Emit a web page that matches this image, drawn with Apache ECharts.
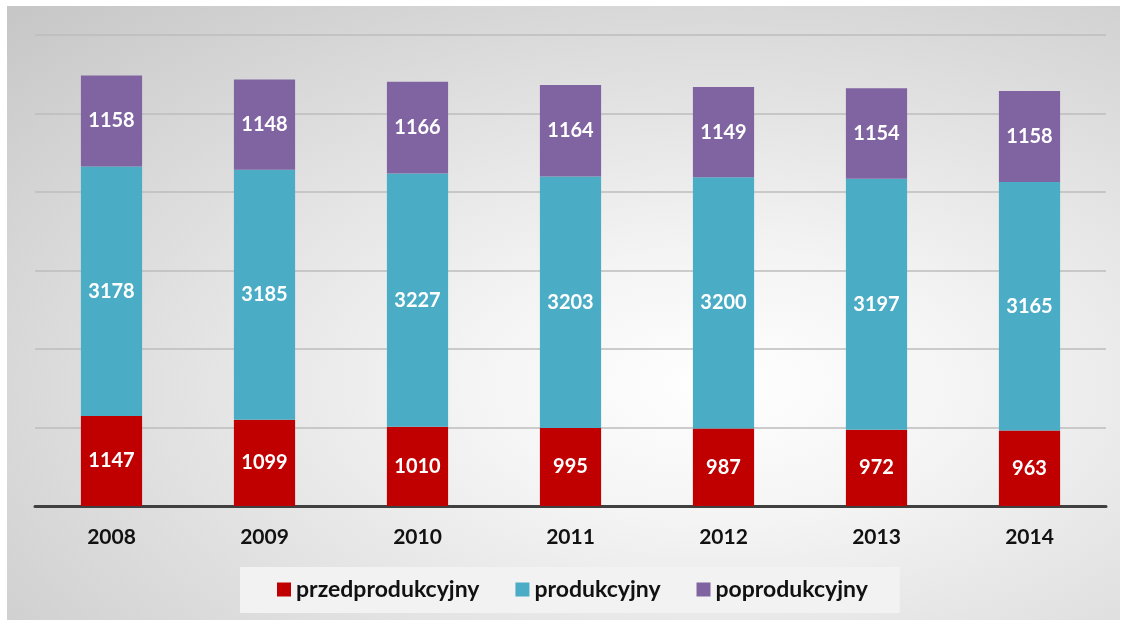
<!DOCTYPE html>
<html>
<head>
<meta charset="utf-8">
<script src="https://cdn.jsdelivr.net/npm/echarts@6/dist/echarts.min.js"></script>
<style>
  html, body { margin: 0; padding: 0; background: #fff; }
  #main {
    position: absolute; left: 7px; top: 6px; width: 1113px; height: 614px;
    background: radial-gradient(ellipse at 64% 62%, #ffffff 0%, #f4f4f4 25%, #c6c6c6 100%);
  }
</style>
</head>
<body>
<div id="main"></div>
<script>
// data
var years = ['2008', '2009', '2010', '2011', '2012', '2013', '2014'];
var przed = [1147, 1099, 1010, 995, 987, 972, 963];
var prod = [3178, 3185, 3227, 3203, 3200, 3197, 3165];
var po = [1158, 1148, 1166, 1164, 1149, 1154, 1158];

var fontName = 'Lato, "Open Sans", sans-serif';

function bar(name, values, color) {
    return {
        name: name,
        type: 'bar',
        stack: 'all',
        data: values,
        barWidth: '40%',
        itemStyle: { color: color },
        label: {
            show: true,
            position: 'inside',
            color: '#fff',
            fontFamily: fontName,
            fontWeight: 'bold',
            fontSize: 20
        }
    };
}

var myChart = echarts.init(document.getElementById('main'));
var option = {
    animation: false,
    grid: { left: 28, right: 14, top: 29, bottom: 114 },
    legend: {
        bottom: 7,
        left: 233,
        backgroundColor: '#f2f2f2',
        padding: [11, 32, 12, 37],
        itemGap: 36,
        itemWidth: 14,
        itemHeight: 14,
        icon: 'rect',
        textStyle: {
            fontFamily: fontName,
            fontWeight: 'bold',
            fontSize: 23,
            color: '#111'
        },
        data: ['przedprodukcyjny', 'produkcyjny', 'poprodukcyjny']
    },
    xAxis: {
        type: 'category',
        data: years,
        axisLine: { lineStyle: { color: '#404040', width: 3 } },
        axisTick: { show: false },
        axisLabel: {
            margin: 21,
            color: '#111',
            fontFamily: fontName,
            fontWeight: 'bold',
            fontSize: 21
        }
    },
    yAxis: {
        type: 'value',
        min: 0,
        max: 6000,
        interval: 1000,
        axisLine: { show: false },
        axisTick: { show: false },
        axisLabel: { show: false },
        splitLine: { lineStyle: { color: '#bdbdbd', width: 1.5 } }
    },
    series: [
        bar('przedprodukcyjny', przed, '#c00000'),
        bar('produkcyjny', prod, '#4bacc6'),
        bar('poprodukcyjny', po, '#8064a2')
    ]
};
myChart.setOption(option);
</script>
</body>
</html>
